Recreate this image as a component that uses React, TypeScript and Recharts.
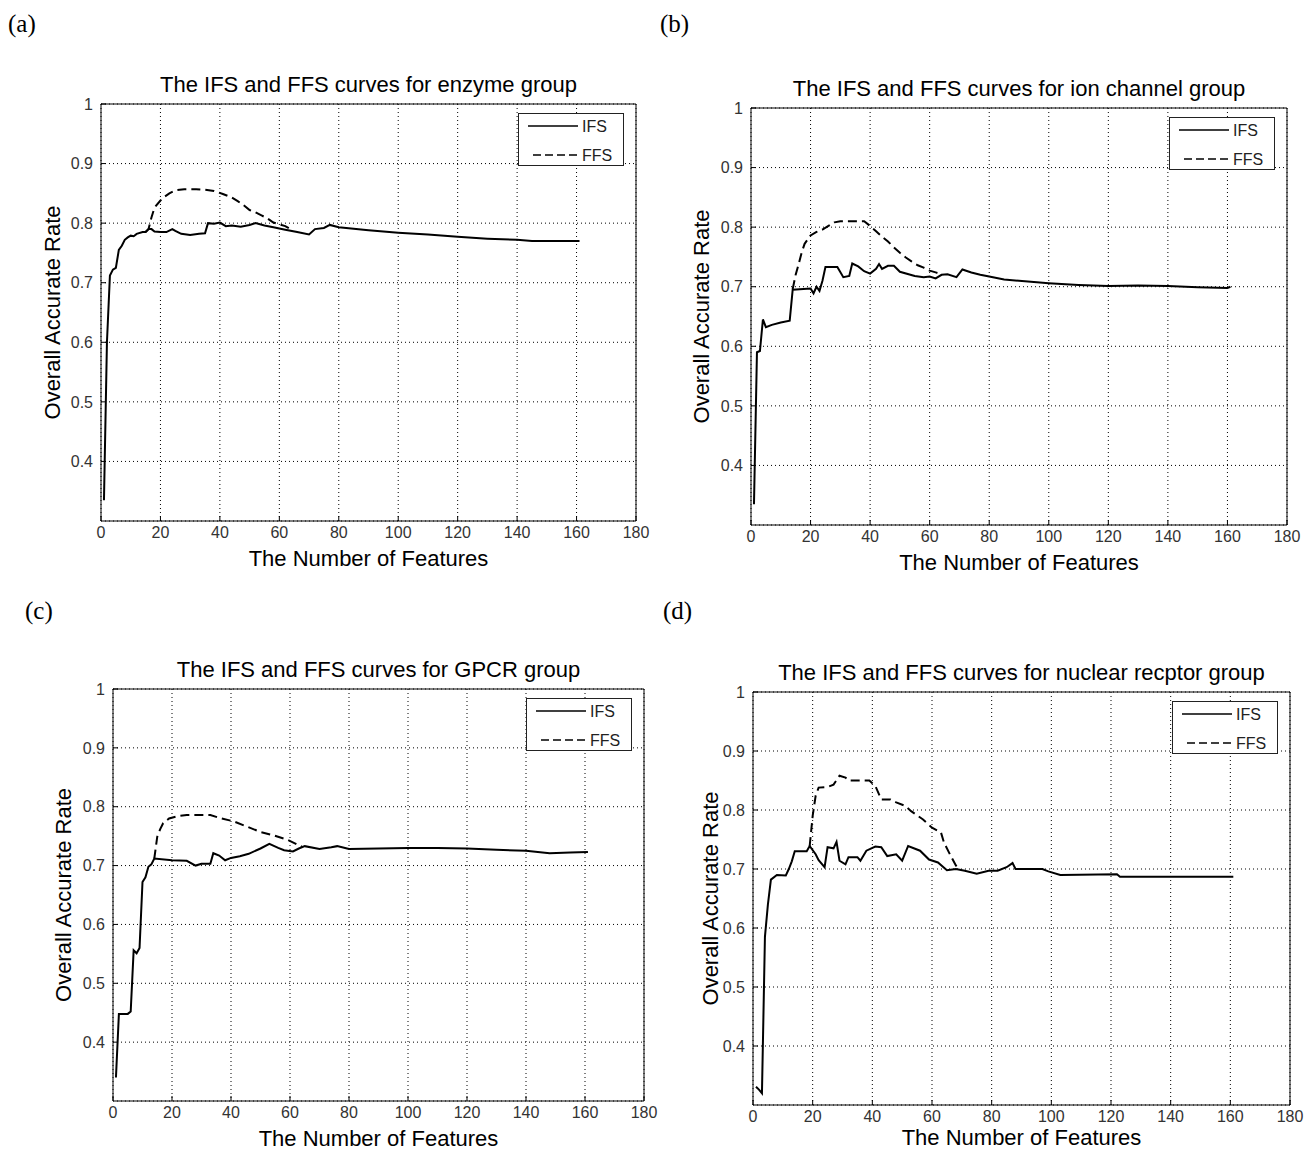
import { LineChart, Line, XAxis, YAxis, CartesianGrid, Legend } from 'recharts'

type Pt = [number, number]

const xTicks = [0, 20, 40, 60, 80, 100, 120, 140, 160, 180]
const yTicks = [0.4, 0.5, 0.6, 0.7, 0.8, 0.9, 1]

// (a) enzyme
const enzymeIFS: Pt[] = [
  [1, 0.335], [2, 0.6], [3, 0.712], [4, 0.722], [5, 0.725], [6, 0.755], [7, 0.762], [8, 0.772],
  [9, 0.776], [10, 0.779], [11, 0.778], [12, 0.782], [14, 0.785], [15, 0.785], [16, 0.79], [17, 0.79],
  [18, 0.786], [20, 0.785], [22, 0.785], [24, 0.79], [25, 0.787], [27, 0.782], [30, 0.78], [33, 0.782],
  [35, 0.783], [36, 0.8], [38, 0.799], [40, 0.801], [42, 0.795], [44, 0.796], [47, 0.794], [50, 0.797],
  [52, 0.8], [55, 0.796], [58, 0.793], [62, 0.789], [66, 0.785], [70, 0.781], [72, 0.79], [75, 0.792],
  [77, 0.797], [80, 0.793], [90, 0.788], [100, 0.784], [110, 0.781], [120, 0.777], [130, 0.774],
  [140, 0.772], [145, 0.77], [161, 0.77],
]
const enzymeFFS: Pt[] = [
  [15, 0.785], [16, 0.79], [17, 0.81], [18, 0.826], [20, 0.838], [21, 0.843], [23, 0.85], [25, 0.855],
  [28, 0.857], [32, 0.857], [35, 0.856], [38, 0.854], [41, 0.849], [44, 0.843], [46, 0.837], [48, 0.83],
  [50, 0.822], [52, 0.818], [54, 0.813], [56, 0.808], [58, 0.801], [60, 0.798], [62, 0.795], [64, 0.789],
]

// (b) ion channel
const ionIFS: Pt[] = [
  [1, 0.335], [2, 0.59], [3, 0.592], [4, 0.645], [5, 0.632], [7, 0.636], [10, 0.64], [13, 0.643],
  [14, 0.695], [20, 0.697], [21, 0.689], [22, 0.7], [23, 0.693], [24, 0.71], [25, 0.733], [29, 0.733],
  [31, 0.716], [33, 0.718], [34, 0.739], [36, 0.734], [38, 0.726], [40, 0.722], [42, 0.73], [43, 0.738],
  [44, 0.73], [46, 0.735], [48, 0.735], [50, 0.725], [55, 0.718], [58, 0.716], [60, 0.717], [62, 0.714],
  [64, 0.72], [66, 0.721], [69, 0.716], [71, 0.729], [74, 0.724], [77, 0.72], [80, 0.717], [85, 0.712],
  [90, 0.71], [100, 0.706], [110, 0.703], [120, 0.701], [130, 0.702], [140, 0.701], [150, 0.699],
  [160, 0.698], [161, 0.7],
]
const ionFFS: Pt[] = [
  [14, 0.696], [15, 0.72], [16, 0.738], [17, 0.757], [18, 0.772], [20, 0.786], [22, 0.792], [24, 0.796],
  [26, 0.802], [28, 0.808], [30, 0.81], [34, 0.81], [38, 0.81], [40, 0.802], [42, 0.793], [44, 0.784],
  [46, 0.776], [48, 0.766], [50, 0.757], [52, 0.749], [54, 0.742], [56, 0.736], [58, 0.732], [60, 0.727],
  [62, 0.724], [64, 0.721],
]

// (c) GPCR
const gpcrIFS: Pt[] = [
  [1, 0.34], [2, 0.448], [5, 0.448], [6, 0.452], [7, 0.556], [8, 0.551], [9, 0.56], [10, 0.672],
  [11, 0.68], [12, 0.698], [13, 0.702], [14, 0.712], [20, 0.709], [25, 0.708], [28, 0.7], [30, 0.703],
  [33, 0.703], [34, 0.721], [36, 0.717], [38, 0.709], [40, 0.713], [43, 0.716], [46, 0.72], [50, 0.729],
  [53, 0.737], [56, 0.73], [58, 0.726], [61, 0.724], [63, 0.729], [65, 0.733], [70, 0.728], [74, 0.731],
  [76, 0.733], [80, 0.728], [90, 0.729], [100, 0.73], [110, 0.73], [120, 0.729], [130, 0.727],
  [140, 0.725], [148, 0.721], [155, 0.722], [161, 0.723],
]
const gpcrFFS: Pt[] = [
  [14, 0.712], [15, 0.749], [16, 0.762], [17, 0.772], [19, 0.78], [22, 0.784], [25, 0.786], [33, 0.786],
  [36, 0.781], [41, 0.775], [45, 0.767], [50, 0.757], [54, 0.752], [59, 0.744], [62, 0.737], [64, 0.732],
]

// (d) nuclear receptor
const nuclearIFS: Pt[] = [
  [1, 0.331], [2, 0.326], [3, 0.32], [4, 0.585], [5, 0.64], [6, 0.682], [8, 0.69], [11, 0.689],
  [12, 0.7], [13, 0.713], [14, 0.73], [18, 0.73], [19, 0.739], [21, 0.725], [22, 0.715], [24, 0.703],
  [25, 0.737], [27, 0.735], [28, 0.746], [29, 0.714], [31, 0.708], [32, 0.72], [35, 0.72], [36, 0.714],
  [38, 0.731], [41, 0.738], [43, 0.737], [45, 0.722], [48, 0.725], [50, 0.714], [52, 0.739], [56, 0.731],
  [59, 0.716], [62, 0.711], [65, 0.698], [68, 0.7], [71, 0.697], [75, 0.692], [79, 0.697], [82, 0.697],
  [85, 0.703], [87, 0.71], [88, 0.7], [97, 0.7], [99, 0.696], [103, 0.69], [122, 0.691], [123, 0.687],
  [161, 0.687],
]
const nuclearFFS: Pt[] = [
  [19, 0.739], [20, 0.79], [21, 0.824], [22, 0.838], [25, 0.839], [27, 0.843], [29, 0.858], [31, 0.855],
  [32, 0.85], [39, 0.85], [41, 0.841], [43, 0.818], [46, 0.818], [48, 0.813], [51, 0.807], [53, 0.798],
  [57, 0.784], [60, 0.77], [63, 0.762], [64, 0.745], [66, 0.725], [68, 0.706], [69, 0.7],
]

const SANS = '"Liberation Sans", Arial, sans-serif'

function buildRows(ifs: Pt[], ffs: Pt[]) {
  const map = new Map<number, { x: number; ifs?: number; ffs?: number }>()
  ifs.forEach(([x, y]) => {
    const r = map.get(x) ?? { x }
    r.ifs = y
    map.set(x, r)
  })
  ffs.forEach(([x, y]) => {
    const r = map.get(x) ?? { x }
    r.ffs = y
    map.set(x, r)
  })
  return [...map.values()].sort((a, b) => a.x - b.x)
}

function LegendBox() {
  return (
    <svg width={106} height={53} style={{ display: 'block' }}>
      <rect x={0.5} y={0.5} width={105} height={52} fill="#fff" stroke="#222" />
      <line x1={10} y1={13} x2={60} y2={13} stroke="#000" strokeWidth={1.5} />
      <line x1={15} y1={42} x2={60} y2={42} stroke="#000" strokeWidth={1.5} strokeDasharray="8 4" />
      <text x={64} y={19} fontSize={16} fontFamily={SANS} fill="#222">IFS</text>
      <text x={64} y={48} fontSize={16} fontFamily={SANS} fill="#222">FFS</text>
    </svg>
  )
}

interface PanelProps {
  plot: [number, number, number, number]
  title: string
  ifs: Pt[]
  ffs: Pt[]
  yLabelGap: number
  xLabelOffset?: number
}

function Panel({ plot, title, ifs, ffs, yLabelGap, xLabelOffset = 7 }: PanelProps) {
  const [L, T, R, B] = plot
  const yw = yLabelGap * 2
  const left = L - yw - 2
  const top = T - 41
  const width = R + 21 - left
  const height = B + 56 - top
  const rows = buildRows(ifs, ffs)
  const tickStyle = { fill: '#333', fontSize: 16, fontFamily: SANS }
  return (
    <div style={{ position: 'absolute', left, top }}>
      <LineChart width={width} height={height} data={rows} margin={{ top: 40, right: 20, bottom: 4, left: 2 }}>
        <CartesianGrid stroke="#000" strokeDasharray="1 3" />
        <XAxis
          dataKey="x" type="number" domain={[0, 180]} ticks={xTicks} interval={0} height={52}
          tickSize={-5} tickMargin={11} stroke="#000" tick={tickStyle}
          label={{ value: 'The Number of Features', position: 'insideBottom', offset: xLabelOffset, fill: '#000', fontSize: 22, fontFamily: SANS }}
        />
        <XAxis
          xAxisId="top" orientation="top" dataKey="x" type="number" domain={[0, 180]} ticks={xTicks}
          interval={0} height={1} tick={false} tickSize={-5} stroke="#000"
          label={{ value: title, position: 'top', offset: 11, fill: '#000', fontSize: 22, fontFamily: SANS }}
        />
        <YAxis
          type="number" domain={[0.3, 1]} ticks={yTicks} interval={0} width={yw}
          tickSize={-5} tickMargin={13} stroke="#000" tick={tickStyle}
          tickFormatter={(v: number) => (v === 1 ? '1' : v.toFixed(1))}
          label={{ value: 'Overall Accurate Rate', angle: -90, position: 'center', fill: '#000', fontSize: 22, fontFamily: SANS }}
        />
        <YAxis
          yAxisId="right" orientation="right" type="number" domain={[0.3, 1]} ticks={yTicks} interval={0}
          width={1} tick={false} tickSize={-5} stroke="#000"
        />
        <Legend
          layout="vertical" align="center" verticalAlign="middle"
          wrapperStyle={{ top: 50, left: R - left - 12 - 106, width: 106, height: 53 }}
          content={() => <LegendBox />}
        />
        <Line dataKey="ffs" type="linear" stroke="#000" strokeWidth={2} strokeDasharray="9 5" dot={false} connectNulls isAnimationActive={false} />
        <Line dataKey="ifs" type="linear" stroke="#000" strokeWidth={2} dot={false} connectNulls isAnimationActive={false} />
      </LineChart>
    </div>
  )
}

const tagStyle = { position: 'absolute' as const, fontFamily: '"Liberation Serif", "Times New Roman", serif', fontSize: 25, lineHeight: 1 }

export default function App() {
  return (
    <div style={{ position: 'absolute', left: 0, top: 0, width: 1305, height: 1152, overflow: 'hidden', background: '#fff' }}>
      <div style={{ ...tagStyle, left: 8, top: 11 }}>(a)</div>
      <div style={{ ...tagStyle, left: 660, top: 11 }}>(b)</div>
      <div style={{ ...tagStyle, left: 25, top: 598 }}>(c)</div>
      <div style={{ ...tagStyle, left: 663, top: 598 }}>(d)</div>
      <Panel plot={[101, 104, 636, 521]} title="The IFS and FFS curves for enzyme group" ifs={enzymeIFS} ffs={enzymeFFS} yLabelGap={49} />
      <Panel plot={[751, 108, 1287, 525]} title="The IFS and FFS curves for ion channel group" ifs={ionIFS} ffs={ionFFS} yLabelGap={50} />
      <Panel plot={[113, 689, 644, 1101]} title="The IFS and FFS curves for GPCR group" ifs={gpcrIFS} ffs={gpcrFFS} yLabelGap={50} />
      <Panel plot={[753, 692, 1290, 1105]} title="The IFS and FFS curves for nuclear recptor group" ifs={nuclearIFS} ffs={nuclearFFS} yLabelGap={43} xLabelOffset={12} />
    </div>
  )
}
